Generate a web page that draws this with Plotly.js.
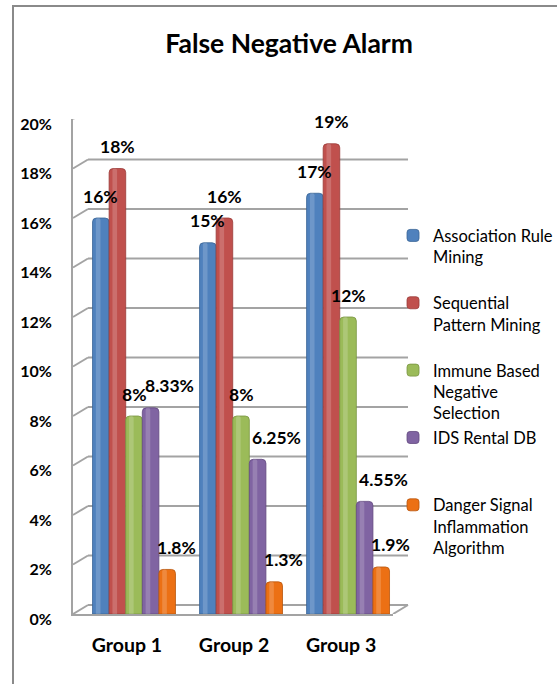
<!DOCTYPE html>
<html>
<head>
<meta charset="utf-8">
<script src="https://cdn.plot.ly/plotly-3.0.1.min.js"></script>
<style>
  html, body { margin: 0; padding: 0; background: #ffffff; }
  #wrap { position: relative; width: 557px; height: 684px; overflow: hidden; }
  #frame { position: absolute; left: 12px; top: 5px; width: 600px; height: 700px;
           border-left: 2px solid #8a8a8a; border-top: 2px solid #8a8a8a; box-sizing: border-box; }
  #chart { position: absolute; left: 0; top: 0; width: 557px; height: 684px; }
</style>
</head>
<body>
<div id="wrap">
  <div id="frame"></div>
  <div id="chart"></div>
</div>
<script>
// ---- data ----
const groups = ["Group 1", "Group 2", "Group 3"];
const seriesNames = [
  "Association Rule<br>Mining<br> ",
  "Sequential<br>Pattern Mining<br> ",
  "Immune Based<br>Negative<br>Selection",
  "IDS Rental DB<br> <br> ",
  "Danger Signal<br>Inflammation<br>Algorithm"
];
const associationRule = [16, 15, 17];
const sequentialPattern = [18, 16, 19];
const immuneBased = [8, 8, 12];
const idsRental = [8.33, 6.25, 4.55];
const dangerSignal = [1.8, 1.3, 1.9];
const yTicks = [0, 2, 4, 6, 8, 10, 12, 14, 16, 18, 20];
const yTickLabels = ["0%", "2%", "4%", "6%", "8%", "10%", "12%", "14%", "16%", "18%", "20%"];

// ---- styles ----
const colors = ["#4F81BD", "#C0504D", "#9BBB59", "#8064A2", "#EC7014"];
const edge = ["#3A6496", "#9A3B38", "#7A9643", "#62497F", "#B8560D"];
const labelXShift = [0, 0, 0, 19, 9];
const labelYShift = 22;
const barW = 0.155;
const depthX = 15, depthY = 9;
const gridColor = "#a3a3a3";

const allSeries = [associationRule, sequentialPattern, immuneBased, idsRental, dangerSignal];
const xIdx = groups.map((g, i) => i);

const traces = allSeries.map((vals, s) => ({
  type: "bar",
  name: seriesNames[s],
  legendgroup: "g" + s,
  x: xIdx,
  y: vals,
  width: barW,
  offset: (s - 2.5) * barW,
  marker: { color: colors[s], line: { color: edge[s], width: 0.8 }, cornerradius: 4 },
  hoverinfo: "skip"
}));
// soft highlight stripe on each cylinder (same data, no legend entry)
allSeries.forEach((vals, s) => {
  traces.push({
    type: "bar", showlegend: false, x: xIdx, y: vals,
    width: barW * 0.28, offset: (s - 2.5) * barW + barW * 0.2,
    marker: { color: "rgba(255,255,255,0.18)", line: { width: 0 }, cornerradius: 2 },
    hoverinfo: "skip"
  });
});

const annotations = [];
allSeries.forEach((vals, s) => {
  vals.forEach((v, g) => {
    annotations.push({
      x: g + (s - 2) * barW, y: v, xref: "x", yref: "y",
      text: String(v) + "%", showarrow: false,
      xshift: labelXShift[s], yshift: labelYShift,
      font: { family: "Lato", size: 17.5, color: "#000", weight: 700 }
    });
  });
});

const shapes = [];
yTicks.forEach(v => {
  shapes.push({ type: "line", layer: "below", xref: "paper", xsizemode: "pixel", xanchor: 0,
    x0: 0, x1: depthX, yref: "y", ysizemode: "pixel", yanchor: v, y0: 0, y1: depthY,
    line: { color: gridColor, width: 2 } });
  shapes.push({ type: "line", layer: "below", xref: "paper", xsizemode: "pixel", xanchor: 0,
    x0: depthX, x1: 335, yref: "y", ysizemode: "pixel", yanchor: v, y0: depthY, y1: depthY,
    line: { color: gridColor, width: 2 } });
});
shapes.push({ type: "line", layer: "below", xref: "paper", xsizemode: "pixel", xanchor: 1,
  x0: 0, x1: depthX, yref: "y", ysizemode: "pixel", yanchor: 0, y0: 0, y1: depthY,
  line: { color: gridColor, width: 2 } });

const layout = {
  width: 557, height: 684,
  margin: { l: 73, r: 164, t: 119, b: 70 },
  paper_bgcolor: "rgba(0,0,0,0)",
  plot_bgcolor: "rgba(0,0,0,0)",
  font: { family: "Lato", color: "#000" },
  title: {
    text: "False Negative Alarm",
    font: { family: "Lato", size: 26.5, weight: 700, color: "#000" },
    xref: "container", x: 0.519, xanchor: "center",
    yref: "container", y: 0.936, yanchor: "middle"
  },
  xaxis: {
    range: [-0.57, 2.42], tickvals: xIdx, ticktext: groups,
    showgrid: false, zeroline: false, showline: true, linecolor: gridColor, linewidth: 2,
    ticks: "", ticklabelstandoff: 13, ticklabelshift: -7,
    tickfont: { family: "Lato", size: 19.5, weight: 700, color: "#000" }
  },
  yaxis: {
    range: [0, 20], tickvals: yTicks, ticktext: yTickLabels,
    showgrid: false, zeroline: false, showline: true, linecolor: gridColor, linewidth: 2,
    ticks: "", ticklabelstandoff: 16, ticklabelshift: 5,
    tickfont: { family: "Lato", size: 16, weight: 700, color: "#000" }
  },
  barmode: "group",
  showlegend: true,
  legend: {
    xref: "container", x: 0.7056, xanchor: "left",
    yref: "container", y: 0.681, yanchor: "top",
    valign: "top", tracegroupgap: 3, traceorder: "normal",
    bgcolor: "rgba(0,0,0,0)",
    font: { family: "Lato", size: 16.5, color: "#000" }
  },
  shapes: shapes,
  annotations: annotations
};

Plotly.newPlot("chart", traces, layout, { displayModeBar: false, staticPlot: true });
</script>
</body>
</html>
